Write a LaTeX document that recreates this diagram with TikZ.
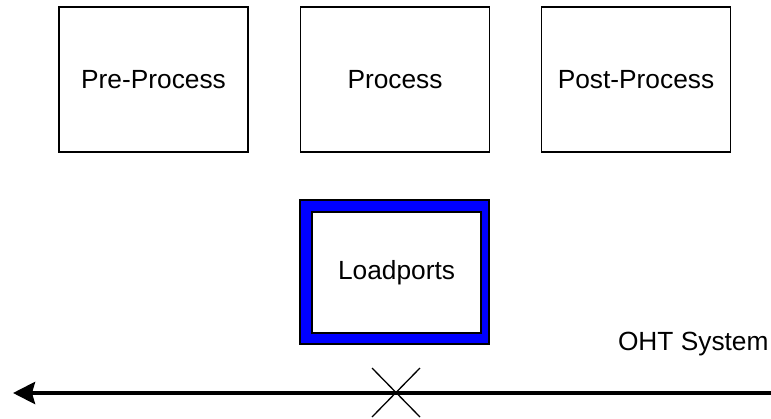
\documentclass[tikz,border=0pt]{standalone}
\usepackage{fontspec}
\setmainfont{Liberation Sans}
\usetikzlibrary{arrows.meta}
\begin{document}
\begin{tikzpicture}[x=1pt,y=-1pt,
  every node/.style={font=\fontsize{26.3}{30}\selectfont, inner sep=0pt, outer sep=0pt},
  stagebox/.style={draw=black, line width=1.3pt, fill=white, minimum width=189pt, minimum height=145pt},
  portouter/.style={draw=black, line width=1.2pt, fill=blue, minimum width=189pt, minimum height=144pt},
  portinner/.style={draw=black, line width=1.2pt, fill=white, minimum width=169pt, minimum height=121pt},
  track/.style={line width=4pt, -{Stealth[length=22pt, width=22pt, inset=3pt]}},
  crossline/.style={line width=1.3pt}]
  \useasboundingbox (0,0) rectangle (771,418);

  % process stages
  \node[stagebox] (pre)  at (153.5,79.5) {Pre-Process};
  \node[stagebox] (proc) at (395,79.5)   {Process};
  \node[stagebox] (post) at (636,79.5)   {Post-Process};

  % loadport frame
  \node[portouter] (lpframe) at (394.5,272) {};
  \node[portinner] (load) at (396.5,272.5) {Loadports};

  % overhead transport track
  \node[anchor=west] (oht) at (618,344) {OHT System};
  \coordinate (trackstart) at (775,393);
  \coordinate (trackend) at (13,393);
  \draw[track] (trackstart) -- (trackend);

  % crossing mark on the track
  \coordinate (xa) at (372,368);
  \coordinate (xb) at (420,417);
  \coordinate (xc) at (420,368);
  \coordinate (xd) at (372,417);
  \draw[crossline] (xa) -- (xb);
  \draw[crossline] (xc) -- (xd);
\end{tikzpicture}
\end{document}
